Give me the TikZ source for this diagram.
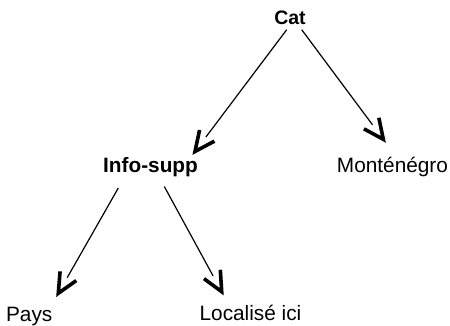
\documentclass[tikz,border=0pt]{standalone}
\usepackage{fontspec}
\setmainfont{Liberation Sans}
\usetikzlibrary{calc}
\begin{document}
\begin{tikzpicture}[x=1pt,y=-1pt,
  lbl/.style={anchor=base,inner sep=3pt,font=\fontsize{20.8}{24}\selectfont},
  bold/.style={lbl,font=\fontsize{20.8}{24}\selectfont\bfseries},
  shaft/.style={line width=1.2pt,shorten >=18pt},
  head/.style={line width=3.6pt,line join=miter,line cap=butt}]
\useasboundingbox (0,0) rectangle (450,326);
% one branch: a thin shaft and an open V head at the tip
\newcommand\branch[2]{%
  \draw[shaft] (#1) -- (#2);
  \draw[head] ($(#2)!22pt!25:(#1)$) -- (#2) -- ($(#2)!22pt!-25:(#1)$);
}
% tree labels
\node[bold,font=\fontsize{19.5}{24}\selectfont\bfseries] (cat) at (290,25) {Cat};
\node[bold] (info) at (150.5,172.5) {Info-supp};
\node[lbl]  (mont) at (392.5,172)   {Monténégro};
\node[lbl]  (pays) at (29.2,321.5)  {Pays};
\node[lbl]  (loc)  at (250.5,320.5) {Localisé ici};
% where each branch leaves its parent
\coordinate (c1) at ([xshift=-3.3pt,yshift=-1.3pt]cat.south);
\coordinate (c2) at ([xshift=11.7pt,yshift=-1.3pt]cat.south);
\coordinate (i1) at ([xshift=-32.2pt,yshift=-8pt]info.south);
\coordinate (i2) at ([xshift=13.8pt,yshift=-6.5pt]info.south);
% arrow tips above each child
\coordinate (infotip) at (195,151.5);
\coordinate (monttip) at (383.3,139.3);
\coordinate (paystip) at (58.3,293.3);
\coordinate (loctip)  at (221.7,291.7);
% branches
\branch{c1}{infotip}
\branch{c2}{monttip}
\branch{i1}{paystip}
\branch{i2}{loctip}
\end{tikzpicture}
\end{document}
